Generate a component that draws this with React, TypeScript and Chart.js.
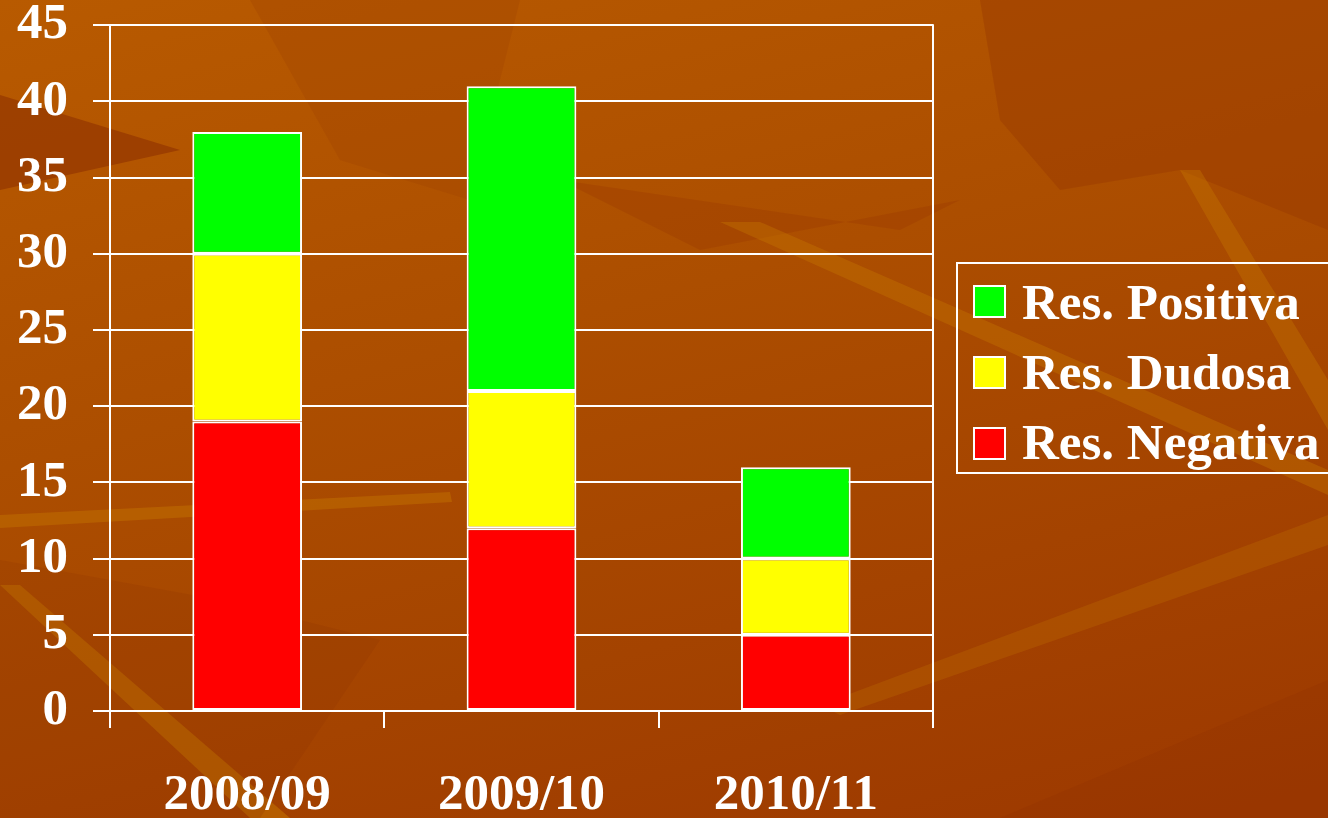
import React, { useEffect, useRef } from "react";
import { Chart, registerables } from "chart.js";

Chart.register(...registerables);

const categories = ["2008/09", "2009/10", "2010/11"];
const negativa = [19, 12, 5];
const dudosa = [11, 9, 5];
const positiva = [8, 20, 6];
const yTicks = [0, 5, 10, 15, 20, 25, 30, 35, 40, 45];

const seriesNames = ["Res. Positiva", "Res. Dudosa", "Res. Negativa"];
const seriesColors = ["#00FF00", "#FFFF00", "#FF0000"];

const FONT = "'Liberation Serif', 'Times New Roman', serif";

const rightBorder = {
  id: "rightBorder",
  afterDatasetsDraw(chart: any) {
    const { ctx, chartArea } = chart;
    ctx.save();
    ctx.strokeStyle = "#FFFFFF";
    ctx.lineWidth = 2;
    ctx.beginPath();
    ctx.moveTo(chartArea.right, chartArea.top - 1);
    ctx.lineTo(chartArea.right, chartArea.bottom + 1);
    ctx.stroke();
    ctx.restore();
  },
};

export default function App() {
  const ref = useRef<HTMLCanvasElement | null>(null);

  useEffect(() => {
    if (!ref.current) return;
    const chart = new Chart(ref.current, {
      type: "bar",
      data: {
        labels: categories,
        datasets: [
          { label: seriesNames[2], data: negativa, backgroundColor: seriesColors[2] },
          { label: seriesNames[1], data: dudosa, backgroundColor: seriesColors[1] },
          { label: seriesNames[0], data: positiva, backgroundColor: seriesColors[0] },
        ].map((d) => ({
          ...d,
          borderColor: "#FFFFFF",
          borderWidth: 2,
          borderSkipped: false,
          barPercentage: 0.4,
          categoryPercentage: 1,
        })),
      },
      options: {
        responsive: false,
        animation: false,
        layout: { padding: { left: 17, right: 395, top: 0, bottom: 0 } },
        plugins: { legend: { display: false }, tooltip: { enabled: false } },
        scales: {
          x: {
            stacked: true,
            afterFit: (s: any) => {
              s.height = 107;
            },
            border: { color: "#FFFFFF", width: 2 },
            grid: {
              offset: true,
              drawOnChartArea: false,
              drawTicks: true,
              tickLength: 17,
              color: "#FFFFFF",
              lineWidth: 2,
            },
            ticks: {
              color: "#FFFFFF",
              padding: 42,
              maxRotation: 0,
              font: { family: FONT, size: 51, weight: "bold", lineHeight: 1 },
            },
          },
          y: {
            stacked: true,
            min: 0,
            max: 45,
            afterFit: (s: any) => {
              s.width = 93;
            },
            afterBuildTicks: (s: any) => {
              s.ticks = yTicks.map((v) => ({ value: v }));
            },
            border: { color: "#FFFFFF", width: 2 },
            grid: {
              color: "#FFFFFF",
              lineWidth: 2,
              drawTicks: true,
              tickLength: 17,
            },
            ticks: {
              color: "#FFFFFF",
              padding: 25,
              stepSize: 5,
              font: { family: FONT, size: 51, weight: "bold", lineHeight: 0.01 },
            },
          },
        },
      },
      plugins: [rightBorder],
    });
    return () => chart.destroy();
  }, []);

  const legendTextTops = [277, 347, 417];
  const legendSwatchTops = [285, 356, 427];

  return (
    <div
      style={{
        position: "fixed",
        left: 0,
        top: 0,
        width: 1328,
        height: 818,
        overflow: "hidden",
        background: "linear-gradient(165deg, #B85A00 0%, #AC4E00 40%, #9C3800 100%)",
      }}
    >
      <svg
        width={1328}
        height={818}
        style={{ position: "absolute", left: 0, top: 0 }}
      >
        <polygon points="980,0 1328,0 1328,230 1180,170 1060,190 1000,120" fill="#9A3A00" opacity={0.45} />
        <polygon points="0,95 180,150 0,190" fill="#8E3000" opacity={0.6} />
        <polygon points="250,0 520,0 470,200 340,160" fill="#A04200" opacity={0.3} />
        <polygon points="560,180 900,230 960,200 700,250" fill="#9A3800" opacity={0.35} />
        <polygon points="0,585 20,585 290,818 250,818" fill="#C87A00" opacity={0.5} />
        <polygon points="0,515 450,492 452,502 0,528" fill="#C87A00" opacity={0.4} />
        <polygon points="720,222 760,222 1328,470 1328,495" fill="#C87A00" opacity={0.35} />
        <polygon points="1180,170 1200,170 1328,380 1328,430" fill="#C87A00" opacity={0.35} />
        <polygon points="820,705 1328,515 1328,545 840,715" fill="#C07000" opacity={0.3} />
        <polygon points="0,560 220,600 380,640 260,818 0,818" fill="#8E3000" opacity={0.2} />
        <polygon points="1000,818 1328,680 1328,818" fill="#8E3000" opacity={0.25} />
      </svg>
      <canvas
        ref={ref}
        width={1328}
        height={818}
        style={{ position: "absolute", left: 0, top: 0, display: "block" }}
      />
      <div
        style={{
          position: "absolute",
          left: 956,
          top: 262,
          width: 380,
          height: 212,
          border: "2px solid #FFFFFF",
          boxSizing: "border-box",
        }}
      />
      {seriesNames.map((name, i) => (
        <React.Fragment key={name}>
          <div
            style={{
              position: "absolute",
              left: 973,
              top: legendSwatchTops[i],
              width: 33,
              height: 33,
              boxSizing: "border-box",
              border: "2px solid #FFFFFF",
              background: seriesColors[i],
            }}
          />
          <div
            style={{
              position: "absolute",
              left: 1022,
              top: legendTextTops[i],
              fontFamily: FONT,
              fontWeight: "bold",
              fontSize: 51,
              lineHeight: 1,
              color: "#FFFFFF",
              whiteSpace: "nowrap",
            }}
          >
            {name}
          </div>
        </React.Fragment>
      ))}
    </div>
  );
}
